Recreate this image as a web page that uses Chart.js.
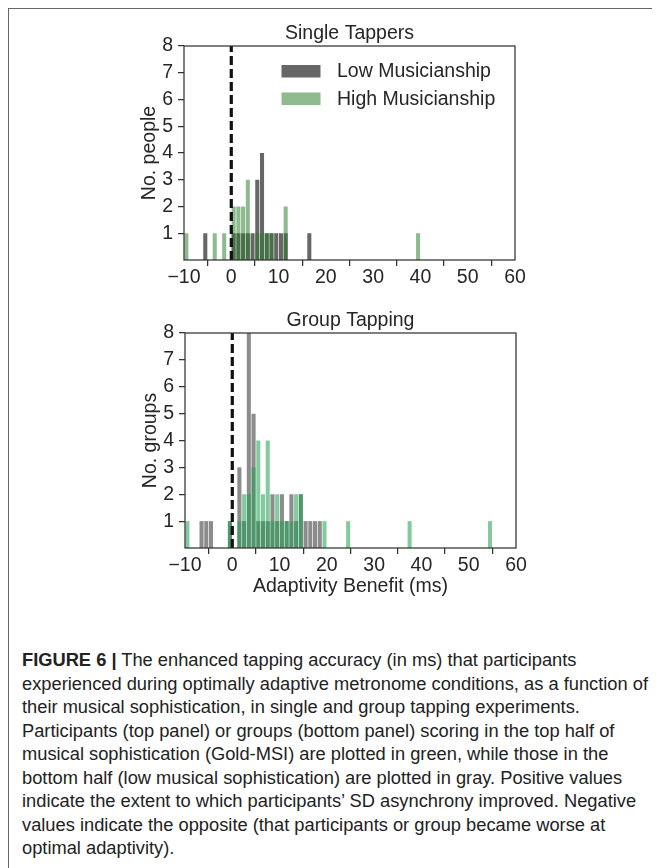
<!DOCTYPE html>
<html>
<head>
<meta charset="utf-8">
<script src="https://cdn.jsdelivr.net/npm/chart.js@4"></script>
<style>
  body { margin: 0; background: #fff; width: 659px; height: 868px; overflow: hidden; position: relative;
         font-family: "Liberation Sans", Arial, sans-serif; }
  .frame { position: absolute; left: 8px; top: 8px; width: 643px; height: 880px;
           border-left: 1px solid #666; border-top: 1px solid #666; }
  canvas { position: absolute; left: 0; }
  #caption { position: absolute; left: 22px; top: 648px; font-size: 18.3px; line-height: 23.5px;
             color: #222; white-space: pre; }
</style>
</head>
<body>
<div class="frame"></div>
<canvas id="single" width="659" height="300" style="top:0"></canvas>
<canvas id="group" width="659" height="300" style="top:300px"></canvas>
<div id="caption"><b>FIGURE 6 |</b> The enhanced tapping accuracy (in ms) that participants
experienced during optimally adaptive metronome conditions, as a function of
their musical sophistication, in single and group tapping experiments.
Participants (top panel) or groups (bottom panel) scoring in the top half of
musical sophistication (Gold-MSI) are plotted in green, while those in the
bottom half (low musical sophistication) are plotted in gray. Positive values
indicate the extent to which participants’ SD asynchrony improved. Negative
values indicate the opposite (that participants or group became worse at
optimal adaptivity).</div>
<script>
// bins are 1 ms wide, given by their left edge
const singleLowBins    = [-6, 0, 1, 2, 3, 4, 5, 6, 7, 8, 9, 10, 11, 16];
const singleLowCounts  = [ 1, 1, 1, 1, 1, 1, 3, 4, 1, 1, 1,  1,  1,  1];
const singleHighBins   = [-10, -4, -2, 0, 1, 2, 3, 5, 6, 7, 8, 11, 39];
const singleHighCounts = [  1,  1,  1, 2, 2, 2, 3, 1, 1, 1, 1,  2,  1];

const groupLowBins    = [-7, -6, -5, -1, 1, 2, 3, 4, 5, 6, 7, 8, 9, 10, 11, 12, 13, 14, 15, 16, 17, 18];
const groupLowCounts  = [ 1,  1,  1,  1, 3, 1, 8, 5, 1, 1, 1, 2, 1,  2,  1,  2,  1,  2,  1,  1,  1,  1];
const groupHighBins   = [-10, -1, 1, 2, 3, 4, 5, 6, 7, 8, 9, 10, 11, 12, 13, 14, 19, 24, 37, 54];
const groupHighCounts = [  1,  1, 1, 2, 2, 3, 4, 2, 4, 1, 2,  1,  1,  1,  2,  2,  1,  1,  1,  1];

const xTicks = [-10, 0, 10, 20, 30, 40, 50, 60];
const yTicks = [1, 2, 3, 4, 5, 6, 7, 8];

const FONT = '"Liberation Sans", Arial, sans-serif';
const INK = '#262626';
const SIZE = 19.5;

function toPoints(bins, counts) {
  return bins.map((b, i) => ({ x: b + 0.5, y: counts[i] }));
}

// box around the axes, panel title and the in-plot legend
const panelDecor = {
  id: 'panelDecor',
  afterDatasetsDraw(chart, args, o) {
    const { ctx, chartArea: a } = chart;
    ctx.save();
    ctx.strokeStyle = '#333';
    ctx.lineWidth = 1.25;
    ctx.strokeRect(a.left, a.top, a.right - a.left, a.bottom - a.top);

    ctx.fillStyle = INK;
    ctx.font = SIZE + 'px ' + FONT;
    ctx.textAlign = 'center';
    ctx.textBaseline = 'middle';
    ctx.fillText(o.title, (a.left + a.right) / 2, a.top - 12.5);

    if (o.legend) {
      const items = [chart.data.datasets[2], chart.data.datasets[1]];
      ctx.textAlign = 'left';
      items.forEach((ds, i) => {
        const y = a.top + 19 + i * 27.5;
        ctx.fillStyle = '#fff';
        ctx.fillRect(a.left + 97.5, y, 39, 12.5);
        ctx.fillStyle = ds.backgroundColor;
        ctx.fillRect(a.left + 97.5, y, 39, 12.5);
        ctx.fillStyle = INK;
        ctx.fillText(ds.label, a.left + 153, y + 7);
      });
    }
    ctx.restore();
  }
};

function histChart(id, cfg) {
  const tickFont = { family: FONT, size: SIZE };
  const grid = { drawOnChartArea: false, tickLength: 6, color: '#333', lineWidth: 1.25 };
  return new Chart(document.getElementById(id), {
    type: 'bar',
    data: {
      datasets: [
        {
          type: 'line',
          data: [{ x: 0, y: 0 }, { x: 0, y: 8 }],
          borderColor: '#111',
          borderWidth: 3.2,
          borderDash: [9, 4],
          pointRadius: 0,
          order: 0
        },
        {
          label: 'High Musicianship',
          data: toPoints(cfg.highBins, cfg.highCounts),
          backgroundColor: cfg.green,
          grouped: false,
          categoryPercentage: 1,
          barPercentage: 0.86,
          order: 1
        },
        {
          label: 'Low Musicianship',
          data: toPoints(cfg.lowBins, cfg.lowCounts),
          backgroundColor: cfg.gray,
          grouped: false,
          categoryPercentage: 1,
          barPercentage: 0.86,
          order: 2
        }
      ]
    },
    options: {
      responsive: false,
      animation: false,
      devicePixelRatio: 1,
      events: [],
      layout: { padding: cfg.padding },
      plugins: {
        legend: { display: false },
        tooltip: { enabled: false },
        panelDecor: { title: cfg.title, legend: cfg.legend }
      },
      scales: {
        x: {
          type: 'linear',
          min: -10,
          max: 60,
          offset: false,
          afterBuildTicks: s => { s.ticks = xTicks.map(v => ({ value: v })); },
          ticks: {
            color: INK,
            font: tickFont,
            padding: 0,
            maxRotation: 0,
            callback: v => String(v).replace('-', '\u2212')
          },
          grid: grid,
          border: { display: false },
          title: cfg.xTitle
            ? { display: true, text: cfg.xTitle, color: INK, font: tickFont, padding: { top: 0, bottom: 2 } }
            : { display: false },
          afterFit: s => { s.height = cfg.xHeight; }
        },
        y: {
          min: 0,
          max: 8,
          afterBuildTicks: s => { s.ticks = yTicks.map(v => ({ value: v })); },
          ticks: { color: INK, font: tickFont, padding: 5 },
          grid: grid,
          border: { display: false },
          title: { display: true, text: cfg.yTitle, color: INK, font: tickFont, padding: { top: 6, bottom: 0 } },
          afterFit: s => { s.width = 52; }
        }
      }
    },
    plugins: [panelDecor]
  });
}

histChart('single', {
  title: 'Single Tappers',
  yTitle: 'No. people',
  legend: true,
  lowBins: singleLowBins, lowCounts: singleLowCounts,
  highBins: singleHighBins, highCounts: singleHighCounts,
  gray: 'rgba(70, 70, 70, 0.82)',
  green: 'rgba(40, 120, 40, 0.52)',
  padding: { left: 132, right: 144, top: 46, bottom: 0 },
  xHeight: 40
});

histChart('group', {
  title: 'Group Tapping',
  yTitle: 'No. groups',
  xTitle: 'Adaptivity Benefit (ms)',
  legend: false,
  lowBins: groupLowBins, lowCounts: groupLowCounts,
  highBins: groupHighBins, highCounts: groupHighCounts,
  gray: 'rgba(95, 95, 95, 0.72)',
  green: 'rgba(30, 160, 80, 0.55)',
  padding: { left: 133, right: 143, top: 33, bottom: 0 },
  xHeight: 52
});
</script>
</body>
</html>
